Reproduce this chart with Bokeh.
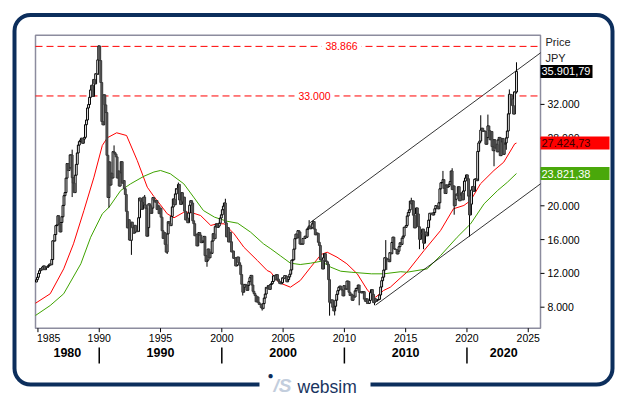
import numpy as np
from bokeh.plotting import figure
from bokeh.models import Label, BoxAnnotation, Range1d, ColumnDataSource
from bokeh.core.properties import value
from bokeh.embed import file_html
from bokeh.resources import INLINE

# ---------------- data (monthly closes, Nikkei 225, JPY) ----------------
FIRST_YEAR, FIRST_MONTH = 1984, 11
FIRST_OPEN = 10980
CLOSE_1980S = [11250, 11543,
               11992, 12321, 12580, 12426, 12759, 12882, 12446, 12734, 12700, 12842, 12955, 13113,
               13024, 13640, 15860, 15826, 16600, 17654, 17740, 18820, 17852, 16911, 18023, 18701,
               20048, 21200, 21567, 23274, 25000, 24176, 24488, 26029, 26010, 23329, 22687, 21564,
               23622, 24900, 26260, 27190, 27600, 27769, 28000, 27400, 27900, 28100, 29600, 30159,
               31581, 31985, 32838, 33713, 34267, 32948, 34954, 34431, 35637, 35549, 37269, 38916]
CLOSE_1990S = [37189, 34591, 29980, 29584, 33131, 31940, 31036, 25978, 20984, 25194, 22455, 23849,
               23293, 26409, 26292, 26111, 25790, 23291, 24120, 22335, 23916, 25222, 22687, 22984,
               22023, 21338, 19346, 17391, 18348, 15952, 15910, 18061, 17399, 16767, 17684, 16925,
               17024, 16953, 18591, 20919, 20552, 19591, 20380, 21027, 20106, 19703, 16408, 17417,
               20229, 19997, 19112, 19725, 20974, 20644, 20448, 20629, 19564, 19990, 19076, 19723,
               18650, 17053, 16140, 16807, 15437, 14517, 16678, 18117, 17913, 17655, 18744, 19868,
               20813, 20125, 21407, 22041, 21956, 22531, 20693, 20167, 21556, 20467, 21020, 19361,
               18330, 18557, 18003, 19151, 20069, 20605, 20331, 18229, 17888, 16459, 16636, 15259,
               16628, 16831, 16527, 15641, 15671, 15830, 16379, 14108, 13406, 13564, 14883, 13842,
               14499, 14367, 15837, 16701, 16112, 17530, 17862, 17437, 17605, 17943, 18558, 18934]
CLOSE_2000S = [19540, 19960, 20337, 17974, 16332, 17411, 15727, 16861, 15747, 14539, 14649, 13786,
               13844, 12884, 12999, 13934, 13262, 12969, 11861, 10714, 9775, 10366, 10697, 10543,
               9998, 10588, 11025, 11493, 11764, 10622, 9877, 9619, 9383, 8640, 9216, 8579,
               8340, 8363, 7973, 7831, 8425, 9083, 9563, 10344, 10219, 10560, 10101, 10677,
               10784, 11042, 11715, 11762, 11236, 11859, 11326, 11082, 10824, 10771, 10899, 11489,
               11388, 11741, 11669, 11009, 11277, 11584, 11900, 12414, 13574, 13607, 14872, 16111,
               16650, 16205, 17060, 16906, 15467, 15505, 15457, 16141, 16128, 16399, 16274, 17226,
               17383, 17604, 17288, 17400, 17876, 18138, 17249, 16569, 16786, 16738, 15681, 15308,
               13592, 13604, 12526, 13850, 14339, 13482, 13377, 13073, 11260, 8577, 8512, 8860,
               7994, 7568, 8110, 8828, 9523, 9958, 10357, 10493, 10133, 10035, 9346, 10546]
CLOSE_2010S = [10198, 10126, 11090, 11057, 9769, 9383, 9537, 8824, 9369, 9202, 9937, 10229,
               10238, 10624, 9755, 9850, 9694, 9816, 9833, 8955, 8700, 8988, 8435, 8455,
               8803, 9723, 10084, 9521, 8543, 9007, 8695, 8840, 8870, 8928, 9446, 10395,
               11139, 11559, 12398, 13861, 13775, 13677, 13668, 13389, 14456, 14328, 15662, 16291,
               14915, 14841, 14828, 14304, 14632, 15162, 15621, 15425, 16174, 16414, 17460, 17451,
               17674, 18798, 19207, 19520, 20563, 20236, 20585, 18890, 17388, 19083, 19747, 19034,
               17518, 16027, 16759, 16666, 17235, 15576, 16569, 16887, 16450, 17425, 18308, 19114,
               19041, 19119, 18909, 19197, 19651, 20033, 19925, 19646, 20356, 22012, 22725, 22765,
               23098, 22068, 21454, 22468, 22202, 22305, 22554, 22865, 24120, 21920, 22351, 20015,
               20773, 21385, 21206, 22259, 20601, 21276, 21522, 20704, 21756, 22927, 23294, 23657]
CLOSE_2020S = [23205, 21143, 18917, 20194, 21878, 22288, 21710, 23140, 23185, 22977, 26434, 27444,
               27663, 28966, 29179, 28813, 28860, 28792, 27284, 28090, 29453, 28893, 27822, 28792,
               27002, 26527, 27821, 26848, 27280, 26393, 27802, 28092, 25937, 27587, 27969, 26095,
               27327, 27446, 28041, 28856, 30888, 33189, 33172, 32619, 31858, 30859, 33487, 33464,
               35901.79]

LOW_MONTHS = ["1987-10", "1990-10", "1992-08", "1995-07", "1998-10", "2001-09", "2003-04",
              "2008-10", "2009-03", "2011-03", "2012-06", "2013-06", "2016-02", "2016-06",
              "2018-12", "2020-03", "2022-03", "2023-03", "2024-01"]
LOW_VALUES = [21036, 19781, 14194, 14295, 12787, 9382, 7603,
              6994, 7021, 8227, 8238, 12415, 14865, 14864,
              18948, 16358, 24681, 26632, 33288]
HIGH_MONTHS = ["1987-10", "1989-12", "1991-03", "1993-09", "1996-06", "2000-04", "2007-02",
               "2007-06", "2013-05", "2015-06", "2018-01", "2018-10", "2021-02", "2021-09",
               "2023-06", "2024-01"]
HIGH_VALUES = [26646, 38957, 27146, 21281, 22750, 20833, 18300,
               18297, 15942, 20952, 24129, 24448, 30714, 30795,
               33772, 36984]

MA_RED_X = [1984.8, 1986.0, 1987.1, 1987.9, 1988.75, 1989.57, 1990.25, 1990.66, 1991.42, 1992.23,
            1993.1, 1993.92, 1994.46, 1995.0, 1995.55, 1996.1, 1996.9, 1997.45, 1998.27, 1999.1,
            1999.6, 2000.2, 2001.0, 2001.8, 2002.9, 2003.7, 2004.0, 2004.5, 2004.8, 2005.6,
            2006.4, 2007.25, 2008.1, 2008.6, 2009.4, 2010.2, 2011.05, 2011.9, 2012.55, 2013.2,
            2013.75, 2014.6, 2015.1, 2016.5, 2017.85, 2018.9, 2019.75, 2020.3, 2021.1, 2022.2,
            2023.0, 2023.9, 2024.04]
MA_RED_Y = [8470, 9590, 12540, 15500, 19440, 23390, 27140, 28050, 28640, 28320,
            25360, 22200, 21100, 20100, 19050, 18580, 19240, 19240, 18850, 17670,
            17870, 17870, 16690, 15100, 13530, 12340, 12140, 11160, 10840, 10370,
            11160, 12730, 14240, 14510, 13920, 13140, 11950, 9980, 9180, 9980,
            10370, 11500, 12140, 14710, 17080, 19650, 20040, 20630, 22600, 24180,
            25160, 27340, 27424.73]
MA_GREEN_X = [1984.8, 1986.0, 1987.1, 1988.5, 1989.3, 1990.25, 1990.8, 1991.75, 1992.56, 1993.65,
              1994.46, 1995.0, 1995.8, 1996.9, 1997.7, 1998.5, 1999.4, 2000.4, 2001.3, 2002.35,
              2003.4, 2004.0, 2004.8, 2005.6, 2006.4, 2007.25, 2008.1, 2008.9, 2009.7, 2010.55,
              2012.2, 2013.2, 2014.6, 2015.1, 2016.76, 2017.85, 2019.2, 2020.3, 2021.4, 2022.5,
              2023.3, 2024.04]
MA_GREEN_Y = [7020, 8200, 9590, 13140, 16280, 19050, 19830, 21810, 22600, 23500,
              24000, 24180, 23790, 22600, 21030, 19440, 18660, 18180, 17940, 16880,
              15500, 14910, 14060, 13210, 13050, 13210, 13440, 12730, 12260, 12140,
              11950, 11950, 12200, 12140, 12540, 14120, 16280, 17870, 20240, 21810,
              22790, 23821.38]

TREND_UPPER_X = [2007.2, 2026.0]
TREND_UPPER_Y = [18000, 38100]
TREND_LOWER_X = [2012.55, 2026.0]
TREND_LOWER_Y = [8250, 22600]

LEVELS = [38866, 33000]
LAST_PRICE = 35901.79
MA_RED_LAST = 27424.73
MA_GREEN_LAST = 23821.38

YEAR_TICKS = [1985, 1990, 1995, 2000, 2005, 2010, 2015, 2020, 2025]
DECADE_BOUNDS = [1990, 2000, 2010, 2020]
DECADE_LABELS = ["1980", "1990", "2000", "2010", "2020"]
PRICE_TICKS = [8000, 12000, 16000, 20000, 24000, 28000, 32000]

X_MIN, X_MAX = 1984.8, 2026.0
Y_MIN, Y_MAX = 5515, 40190


def de_fmt(v, dec=0):
    s = f"{v:,.{dec}f}"
    return s.replace(",", "#").replace(".", ",").replace("#", ".")


# ---------------- derived series ----------------
closes = np.array(CLOSE_1980S + CLOSE_1990S + CLOSE_2000S + CLOSE_2010S + CLOSE_2020S, dtype=float)
n = len(closes)
month_idx = np.arange(n)
years = FIRST_YEAR + (FIRST_MONTH - 1 + month_idx) // 12
months = (FIRST_MONTH - 1 + month_idx) % 12 + 1
t = years + (months - 0.5) / 12.0
opens = np.concatenate([[FIRST_OPEN], closes[:-1]])
highs = np.maximum(opens, closes)
lows = np.minimum(opens, closes)


def key_index(k):
    y, m = int(k[:4]), int(k[5:])
    return (y - FIRST_YEAR) * 12 + (m - FIRST_MONTH)


for k, v in zip(LOW_MONTHS, LOW_VALUES):
    i = key_index(k)
    lows[i] = min(lows[i], v)
for k, v in zip(HIGH_MONTHS, HIGH_VALUES):
    i = key_index(k)
    highs[i] = max(highs[i], v)

up = closes >= opens
btop = np.maximum(opens, closes)
bbot = np.minimum(opens, closes)
src_up = ColumnDataSource(dict(x=t[up], top=btop[up], bottom=bbot[up]))
src_dn = ColumnDataSource(dict(x=t[~up], top=btop[~up], bottom=bbot[~up]))
src_wk = ColumnDataSource(dict(x=t, lo=lows, hi=highs))

# ---------------- layout: page pixels of the chart box ----------------
PAGE_W, PAGE_H = 629, 395
CH_L, CH_R, CH_T, CH_B = 35, 540, 34.7, 327.7
KX = (X_MAX - X_MIN) / (CH_R - CH_L)
KY = (Y_MAX - Y_MIN) / (CH_B - CH_T)


def X(px):
    return X_MIN + (px - CH_L) * KX


def Y(py):
    return Y_MIN + (CH_B - py) * KY


FONT = "Liberation Sans"
NAVY = "#0c2e5c"

p = figure(width=PAGE_W, height=PAGE_H, title=None,
           x_range=Range1d(X(0), X(PAGE_W)), y_range=Range1d(Y(PAGE_H), Y(0)),
           output_backend="svg", toolbar_location=None, x_axis_location=None, y_axis_location=None,
           min_border=0, min_border_left=0, min_border_right=0, min_border_top=0, min_border_bottom=0)
p.xgrid.visible = False
p.ygrid.visible = False
p.outline_line_color = None
p.background_fill_color = "white"
p.border_fill_color = "white"

# chart box
p.quad(left=[X_MIN], right=[X_MAX], bottom=[Y_MIN], top=[Y_MAX], fill_color="white",
       line_color="#8c8c9e", line_width=1.5)

# moving averages and trend lines
p.line(MA_RED_X, MA_RED_Y, line_color="#ff0000", line_width=1)
p.line(MA_GREEN_X, MA_GREEN_Y, line_color="#3fa300", line_width=1)
p.line(TREND_UPPER_X, TREND_UPPER_Y, line_color="black", line_width=0.8)
p.line(TREND_LOWER_X, TREND_LOWER_Y, line_color="black", line_width=0.8)

# horizontal levels
p.segment(x0=[X_MIN] * len(LEVELS), x1=[X_MAX] * len(LEVELS), y0=LEVELS, y1=LEVELS,
          line_color="#ff0000", line_dash="7 4", line_width=1)

# candles
W = 0.15
p.segment(x0="x", x1="x", y0="lo", y1="hi", source=src_wk, line_color="black", line_width=1)
p.vbar(x="x", width=W, top="top", bottom="bottom", source=src_up, fill_color="white",
       line_color="black", line_width=1)
p.vbar(x="x", width=W, top="top", bottom="bottom", source=src_dn, fill_color="#5e5e5e",
       line_color="#3a3a3a", line_width=1)

# level labels with white background
level_label_px = [341, 314]
lvl_x = [X(v) for v in level_label_px]
p.quad(left=[X(v - 20) for v in level_label_px], right=[X(v + 20) for v in level_label_px],
       bottom=[lv - 6 * KY for lv in LEVELS], top=[lv + 6 * KY for lv in LEVELS],
       fill_color="white", line_color=None)
p.text(x=lvl_x, y=LEVELS, text=[de_fmt(v) for v in LEVELS], text_align="center",
       text_baseline="middle", text_color="#ff0000", text_font=value(FONT),
       text_font_size=value("10.5px"))

# bottom axis: year ticks
p.segment(x0=YEAR_TICKS, x1=YEAR_TICKS, y0=[Y(CH_B)] * len(YEAR_TICKS), y1=[Y(CH_B + 4)] * len(YEAR_TICKS),
          line_color="black", line_width=1)
p.text(x=[YEAR_TICKS[0] - 1.0 * KX], y=[Y(333)], text=[str(YEAR_TICKS[0])], text_align="left",
       text_baseline="top", text_color="black", text_font=value(FONT), text_font_size=value("10.5px"))
p.text(x=YEAR_TICKS[1:], y=[Y(333)] * (len(YEAR_TICKS) - 1), text=[str(v) for v in YEAR_TICKS[1:]],
       text_align="center", text_baseline="top", text_color="black", text_font=value(FONT),
       text_font_size=value("10.5px"))

# decade row
edges = [X_MIN] + DECADE_BOUNDS + [X_MAX]
dec_pos = [(a + b) / 2 for a, b in zip(edges[:-1], edges[1:])]
p.segment(x0=DECADE_BOUNDS, x1=DECADE_BOUNDS, y0=[Y(347)] * len(DECADE_BOUNDS),
          y1=[Y(363)] * len(DECADE_BOUNDS), line_color="black", line_width=1.5)
p.text(x=dec_pos, y=[Y(347)] * len(dec_pos), text=DECADE_LABELS, text_align="center",
       text_baseline="top", text_color="black", text_font=value(FONT), text_font_style="bold",
       text_font_size=value("12.5px"))

# right axis: price ticks
p.segment(x0=[X(CH_R)] * len(PRICE_TICKS), x1=[X(CH_R + 4)] * len(PRICE_TICKS), y0=PRICE_TICKS,
          y1=PRICE_TICKS, line_color="black", line_width=1)
p.text(x=[X(547)] * len(PRICE_TICKS), y=PRICE_TICKS, text=[de_fmt(v) for v in PRICE_TICKS],
       text_align="left", text_baseline="middle", text_color="black", text_font=value(FONT),
       text_font_size=value("10.5px"))

p.text(x=[X(545), X(545)], y=[Y(41), Y(57)], text=["Price", "JPY"], text_align="left",
       text_baseline="middle", text_color="#222222", text_font=value(FONT),
       text_font_size=value("11px"))

# value boxes on the right
half = 6.5 * KY
for val, col, tcol, right in [(LAST_PRICE, "black", "white", 592),
                              (MA_RED_LAST, "#ff0000", "#3a0000", 609),
                              (MA_GREEN_LAST, "#4aa80a", "white", 609)]:
    p.add_layout(BoxAnnotation(left=X(540), right=X(right), top=val + half, bottom=val - half,
                               fill_color=col, fill_alpha=1, line_color=None))
    p.add_layout(Label(x=X(541), y=val, text=de_fmt(val, 2), text_align="left",
                       text_baseline="middle", text_color=tcol, text_font=FONT,
                       text_font_size="11px"))

# rounded frame + logo
p.add_layout(BoxAnnotation(left=X(14), right=X(612), top=Y(14.5), bottom=Y(384),
                           fill_color=None, fill_alpha=0, line_color=NAVY, line_alpha=1,
                           line_width=4, border_radius=16))
p.add_layout(BoxAnnotation(left=X(259), right=X(370), top=Y(377), bottom=Y(391),
                           fill_color="white", fill_alpha=1, line_color=None))
p.add_layout(Label(x=X(270), y=Y(375), text="\u25CF", text_align="center", text_baseline="middle",
                   text_color=NAVY, text_font=FONT, text_font_size="10px"))
p.add_layout(Label(x=X(273), y=Y(385), text="/S", text_align="left", text_baseline="alphabetic",
                   text_color="#c3cedd", text_font=FONT, text_font_style="bold italic",
                   text_font_size="19px"))
p.add_layout(Label(x=X(297), y=Y(386), text="websim", text_align="left", text_baseline="alphabetic",
                   text_color="#1a3561", text_font=FONT, text_font_size="17.5px"))

open("out.html", "w").write(file_html(p, INLINE))
